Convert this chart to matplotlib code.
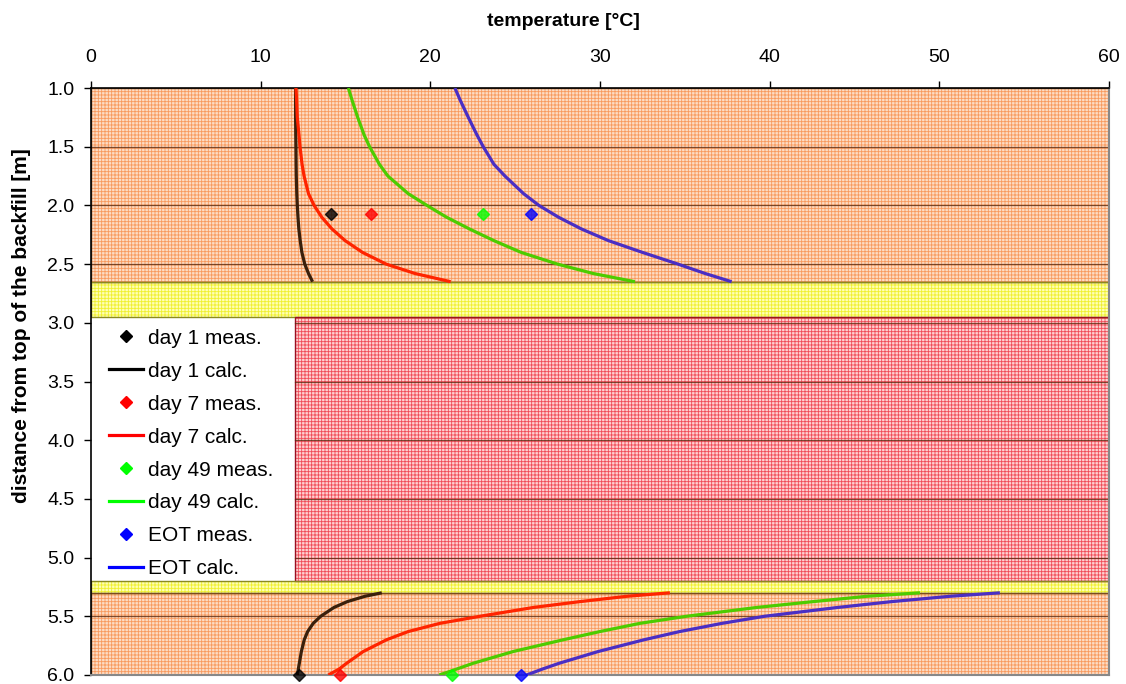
import numpy as np
import matplotlib
matplotlib.use('Agg')
import matplotlib.pyplot as plt
from matplotlib.patches import Rectangle
from matplotlib.lines import Line2D

# calculated profiles above the pipe (depth in m, temperature in degC)
upper_depth = [1.0, 1.1, 1.25, 1.4, 1.5, 1.65, 1.75, 1.9, 2.0, 2.1, 2.2, 2.3, 2.4, 2.5, 2.58, 2.65]
day1_upper = [12.06, 12.06, 12.06, 12.07, 12.08, 12.09, 12.1, 12.13, 12.16, 12.2, 12.25, 12.33,
              12.43, 12.6, 12.82, 13.06]
day7_upper = [12.08, 12.12, 12.16, 12.26, 12.32, 12.44, 12.56, 12.82, 13.15, 13.6, 14.2, 14.98,
              16.0, 17.4, 19.1, 21.2]
day49_upper = [15.17, 15.38, 15.72, 16.1, 16.42, 17.0, 17.5, 18.7, 19.8, 20.95, 22.3, 23.75,
               25.35, 27.5, 29.6, 32.06]
eot_upper = [21.45, 21.75, 22.24, 22.75, 23.12, 23.75, 24.4, 25.5, 26.4, 27.55, 28.9, 30.5,
             32.5, 34.6, 36.2, 37.76]

# calculated profiles below the pipe
lower_depth = [5.3, 5.33, 5.375, 5.425, 5.5, 5.56, 5.63, 5.7, 5.8, 5.9, 5.95, 6.0]
day1_lower = [17.14, 16.14, 15.11, 14.32, 13.54, 13.1, 12.77, 12.57, 12.4, 12.28, 12.22, 12.16]
day7_lower = [34.12, 31.57, 28.82, 26.07, 22.93, 20.57, 18.7, 17.42, 16.05, 15.07, 14.62, 13.99]
day49_lower = [48.86, 45.71, 42.57, 39.23, 35.1, 32.36, 30.0, 27.84, 24.89, 22.53, 21.55, 20.53]
eot_lower = [53.57, 50.6, 47.2, 44.0, 39.7, 37.2, 34.7, 32.6, 29.9, 27.6, 26.6, 25.68]

# measured temperatures at the two sensor depths
meas_depth = [2.07, 6.0]
day1_meas = [14.14, 12.26]
day7_meas = [16.5, 14.67]
day49_meas = [23.1, 21.27]
eot_meas = [25.93, 25.34]

labels = ['day 1', 'day 7', 'day 49', 'EOT']

# soil layers: (top, bottom, x from, x to, kind)
layers = [
    (1.0, 2.65, 0, 60, 'backfill'),
    (2.65, 2.95, 0, 60, 'sand'),
    (2.95, 5.2, 12, 60, 'pipe'),
    (5.2, 5.3, 0, 60, 'sand'),
    (5.3, 6.0, 0, 60, 'backfill'),
]
layer_style = {
    'backfill': dict(facecolor='#fddcc4', edgecolor='#f89a5e'),
    'sand': dict(facecolor='#ffffb4', edgecolor='#f0f030'),
    'pipe': dict(facecolor='#ffd0d0', edgecolor='#f04c58'),
}
layer_edge = {'backfill': '#7a4a20', 'sand': '#8a8a20', 'pipe': '#9a1020'}

line_cols = ['#3a200c', '#ff2400', '#4ccc00', '#4a2ec4']
legend_cols = ['black', '#ff0000', '#00ff00', '#0000ff']

plt.rcParams['font.family'] = ['Liberation Sans', 'DejaVu Sans']
plt.rcParams['hatch.linewidth'] = 0.6

fig = plt.figure(figsize=(11.26, 6.84), dpi=100)
ax = fig.add_axes([0.0808, 0.0132, 0.9041, 0.8581])

for top, bot, x0, x1, kind in layers:
    st = layer_style[kind]
    ax.add_patch(Rectangle((x0, top), x1 - x0, bot - top, facecolor=st['facecolor'],
                           edgecolor=st['edgecolor'], hatch='+++++', linewidth=0, zorder=0))
    ax.add_patch(Rectangle((x0, top), x1 - x0, bot - top, facecolor='none',
                           edgecolor=layer_edge[kind], linewidth=1.0, zorder=0.5))

# horizontal grid over the soil layers, left of the pipe block stays blank
for d in np.arange(1.5, 6.0, 0.5):
    x_start = 12 if 2.95 < d < 5.2 else 0
    ax.plot([x_start, 60], [d, d], color='#5a2a10', lw=0.9, alpha=0.8, zorder=0.6)

uppers = [day1_upper, day7_upper, day49_upper, eot_upper]
lowers = [day1_lower, day7_lower, day49_lower, eot_lower]
meas = [day1_meas, day7_meas, day49_meas, eot_meas]
for up, lo, c in zip(uppers, lowers, line_cols):
    ax.plot(up, upper_depth, color=c, lw=2.3, zorder=3, solid_capstyle='butt')
    ax.plot(lo, lower_depth, color=c, lw=2.3, zorder=3, solid_capstyle='butt')
for m, c in zip(meas, legend_cols):
    ax.plot(m, meas_depth, 'D', color=c, ms=6, alpha=0.8, ls='none', zorder=4, clip_on=False)

ax.set_xlim(0, 60)
ax.set_ylim(6.0, 1.0)
ax.set_xticks(np.arange(0, 61, 10))
ax.set_yticks(np.arange(1.0, 6.01, 0.5))
ax.set_yticklabels(['{:.1f}'.format(v) for v in np.arange(1.0, 6.01, 0.5)])
ax.xaxis.tick_top()
ax.xaxis.set_label_position('top')
ax.tick_params(axis='both', direction='out', length=5, width=1, labelsize=14)
ax.tick_params(axis='x', pad=11)
ax.tick_params(axis='y', pad=7)
ax.set_xlabel('temperature [°C]', fontsize=14, fontweight='bold')
ax.set_ylabel('distance from top of the backfill [m]', fontsize=15, fontweight='bold')
ax.xaxis.set_label_coords(0.4637, 1.106)
ax.yaxis.set_label_coords(-0.059, 0.595)
for s in ['top', 'left']:
    ax.spines[s].set_color('black')
    ax.spines[s].set_linewidth(1.2)
for s in ['bottom', 'right']:
    ax.spines[s].set_color('#888888')
    ax.spines[s].set_linewidth(1.5)

handles = []
names = []
for lab, c in zip(labels, legend_cols):
    handles.append(Line2D([], [], marker='D', ms=6, color=c, ls='none'))
    names.append(lab + ' meas.')
    handles.append(Line2D([], [], color=c, lw=2.3))
    names.append(lab + ' calc.')
leg = ax.legend(handles, names, loc='upper left', bbox_to_anchor=(0.0177, 0.59), frameon=False,
                fontsize=15, handlelength=1.63, handletextpad=0.25, labelspacing=0.67,
                borderaxespad=0, borderpad=0)
leg.set_zorder(5)

fig.savefig('out.png', dpi=100)
